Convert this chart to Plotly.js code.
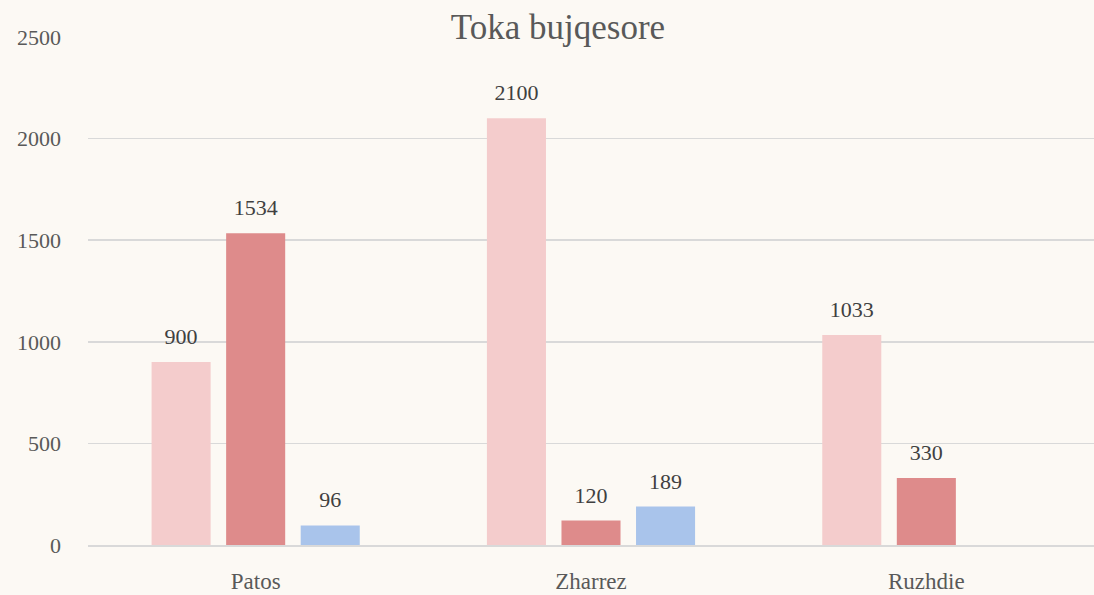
<!DOCTYPE html>
<html>
<head>
<meta charset="utf-8">
<script src="https://cdn.plot.ly/plotly-3.0.1.min.js"></script>
<style>html,body{margin:0;padding:0;background:#fcf9f4;}#chart{width:1094px;height:595px;}</style>
</head>
<body>
<div id="chart"></div>
<script>
const categories = ["Patos", "Zharrez", "Ruzhdie"];
const series1 = [900, 2100, 1033];
const series2 = [1534, 120, 330];
const series3 = [96, 189, null];
const yTicks = [0, 500, 1000, 1500, 2000, 2500];
const titleText = "Toka bujqesore";

const FONT = "'Liberation Serif', 'DejaVu Serif', serif";
function mk(vals, color) {
  return {
    type: 'bar', x: categories, y: vals,
    marker: {color: color, line: {color: color, width: 0}},
    text: vals.map(v => v === null ? '' : String(v)),
    texttemplate: '<span style="font-size:22px">%{text}</span><br> ',
    textposition: 'outside',
    constraintext: 'none',
    cliponaxis: false,
    textfont: {family: FONT, size: 10, color: '#404040'},
    hoverinfo: 'x+y'
  };
}
const data = [mk(series1, '#f4cccc'), mk(series2, '#de8b8b'), mk(series3, '#a9c4eb')];
const layout = {
  width: 1094, height: 595,
  paper_bgcolor: '#fcf9f4', plot_bgcolor: '#fcf9f4',
  margin: {l: 88, r: 0, t: 37, b: 50},
  barmode: 'group', bargap: 0.333, bargroupgap: 0.208,
  showlegend: false,
  title: {text: titleText, x: 0.51, xanchor: 'center', y: 0.955, yanchor: 'middle',
          font: {family: FONT, size: 35, color: '#595959'}},
  xaxis: {showgrid: false, showline: true, linecolor: '#d9d9d9', linewidth: 1.5,
          tickfont: {family: FONT, size: 23, color: '#595959'}, ticks: '', ticklabelstandoff: 15},
  yaxis: {range: [0, 2500], tickvals: yTicks, ticktext: yTicks.map(String),
          showgrid: true, gridcolor: '#d9d9d9', gridwidth: 1.5, zeroline: false, showline: false,
          tickfont: {family: FONT, size: 22, color: '#595959'}, ticks: '', ticklabelstandoff: 26}
};
Plotly.newPlot('chart', data, layout, {displayModeBar: false, staticPlot: true});
</script>
</body>
</html>
